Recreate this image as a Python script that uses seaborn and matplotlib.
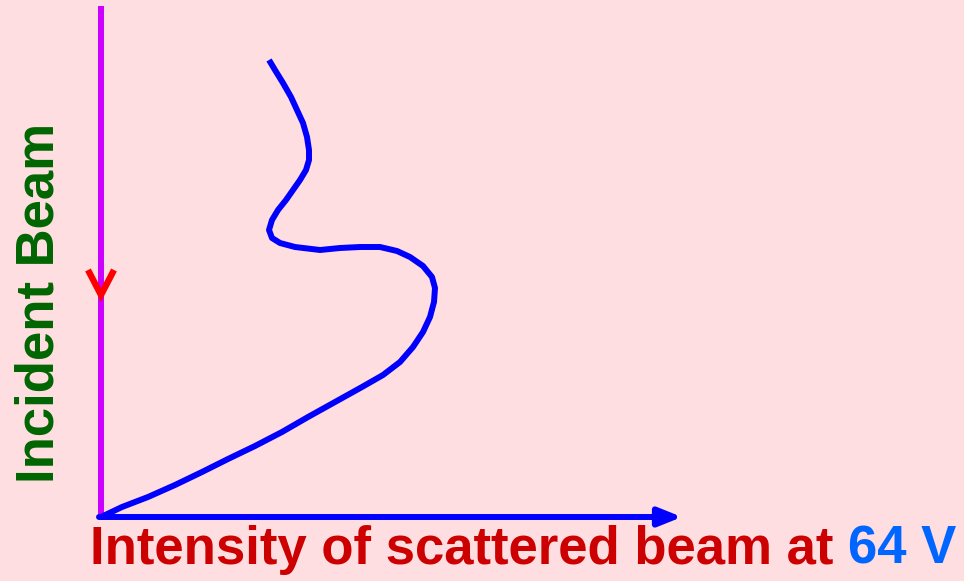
import numpy as np
import pandas as pd
import matplotlib
matplotlib.use("Agg")
import matplotlib.pyplot as plt
import seaborn as sns

# Datos de la curva: intensidad (horizontal) frente a profundidad (vertical)
intensidad = [168, 174, 182, 190, 196, 202, 206, 208, 208, 205, 199, 192, 185, 177, 171,
              168, 171, 179, 194, 219, 239, 259, 279, 296, 309, 322, 331, 334, 333, 329,
              322, 312, 299, 282, 261, 234, 207, 181, 154, 127, 101, 74, 47, 21, 0]
altura = [457, 447, 434, 420, 407, 394, 380, 367, 357, 347, 337, 327, 317, 307, 297,
          287, 279, 274, 270, 267, 269, 270, 270, 266, 260, 251, 240, 229, 215, 200,
          185, 170, 155, 142, 130, 115, 100, 85, 71, 58, 45, 32, 20, 10, 0]
texto_x = "Intensity of scattered beam at"
texto_v = "64 V"
texto_y = "Incident Beam"

fondo = "#FFDEE1"
sns.set_style("white")
plt.rcParams['font.family'] = ['Liberation Sans', 'DejaVu Sans']

fig = plt.figure(figsize=(9.64, 5.81), dpi=100, facecolor=fondo)
ax = fig.add_axes([0, 0, 1, 1])
ax.set_facecolor(fondo)
ax.set_xlim(-101, 863)
ax.set_ylim(-64, 517)
ax.axis('off')

# Haz incidente (vertical)
ax.plot([0, 0], [0, 511.5], color='#CC00FF', lw=4.3, solid_capstyle='butt', zorder=2)

# Eje horizontal con flecha
ax.annotate('', xy=(581, 0), xytext=(-2, 0),
            arrowprops=dict(arrowstyle='-|>,head_length=0.55,head_width=0.22',
                            mutation_scale=25, lw=4.3, color='#0000FF',
                            shrinkA=0, shrinkB=0), zorder=3)

# Curva
datos = pd.DataFrame({'intensidad': intensidad, 'altura': altura})
sns.lineplot(data=datos, x='intensidad', y='altura', sort=False, estimator=None,
             color='#0000FF', lw=4.3, ax=ax, zorder=4)
for linea in ax.lines[-1:]:
    linea.set_solid_joinstyle('round')
    linea.set_solid_capstyle('butt')
ax.set_xlabel('')
ax.set_ylabel('')

# Flecha roja sobre el haz
ax.plot([-13, 0, 13], [247, 222, 247], color='#FF0000', lw=4.6,
        solid_joinstyle='miter', solid_capstyle='butt', zorder=5)

# Textos
t = ax.text(-11, -58, texto_x, color='#CC0000', fontsize=38, fontweight='bold',
            ha='left', va='bottom')
ax.annotate(texto_v, xy=(1, 0), xycoords=t, xytext=(10.5, 0), textcoords='offset points',
            color='#0066FF', fontsize=38, fontweight='bold', ha='left', va='bottom')
ax.text(-61, 34, texto_y, color='#006600', fontsize=38, fontweight='bold',
        rotation=90, ha='center', va='bottom')

fig.savefig('out.png', dpi=100, facecolor=fondo)
